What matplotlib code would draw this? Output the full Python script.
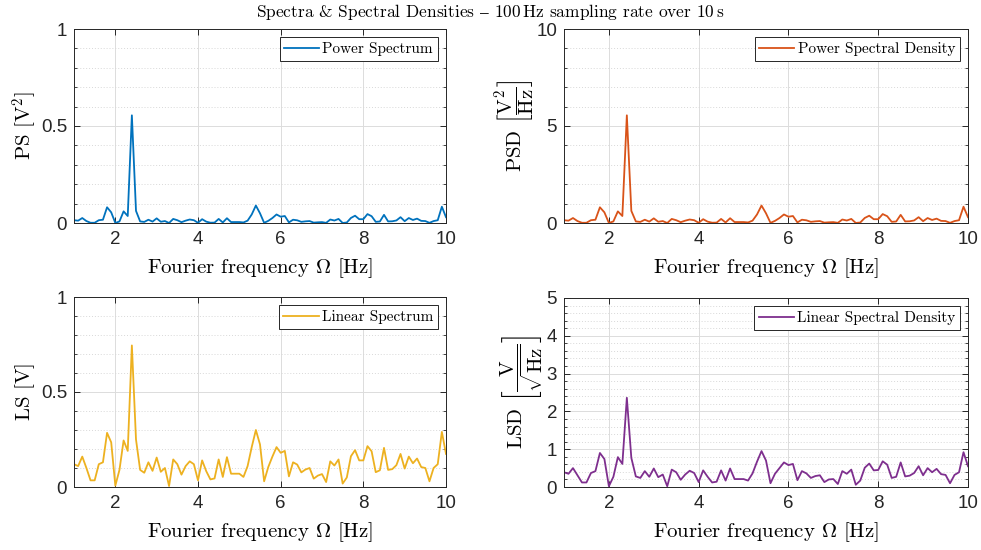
import numpy as np
import matplotlib
matplotlib.use('Agg')
import matplotlib.pyplot as plt
from matplotlib.ticker import MultipleLocator

plt.rcParams['mathtext.fontset'] = 'cm'
plt.rcParams['font.family'] = ['cmr10', 'DejaVu Serif']
plt.rcParams['axes.unicode_minus'] = False

# frequency bins, 0.1 Hz resolution
freq = np.linspace(1, 10, 91)

# power spectrum [V^2]
ps = [0.0144, 0.0121, 0.0256, 0.010, 0.0012, 0.0012, 0.0144, 0.0169, 0.081, 0.055,
      0.0001, 0.0081, 0.060, 0.036, 0.555, 0.0625, 0.0081, 0.0056, 0.0169, 0.0072,
      0.024, 0.0064, 0.010, 0.0000, 0.021, 0.0144, 0.0042, 0.0121, 0.018, 0.0144,
      0.0012, 0.0196, 0.0069, 0.0016, 0.0020, 0.021, 0.0028, 0.0246, 0.0049, 0.0049,
      0.0049, 0.0028, 0.0121, 0.044, 0.090, 0.050, 0.0009, 0.011, 0.0256, 0.044,
      0.0324, 0.036, 0.0031, 0.0169, 0.0139, 0.0059, 0.0085, 0.010, 0.0019, 0.0036,
      0.0046, 0.0007, 0.018, 0.0128, 0.021, 0.0003, 0.0025, 0.026, 0.0376, 0.0196,
      0.0196, 0.046, 0.035, 0.0060, 0.0077, 0.042, 0.0081, 0.0088, 0.0132, 0.030,
      0.0094, 0.0256, 0.0156, 0.0225, 0.011, 0.010, 0.0009, 0.010, 0.0144, 0.084, 0.030]

# power spectral density [V^2/Hz]
psd = [0.144, 0.121, 0.256, 0.10, 0.012, 0.012, 0.144, 0.169, 0.81, 0.55,
       0.001, 0.081, 0.60, 0.36, 5.55, 0.625, 0.081, 0.056, 0.169, 0.072,
       0.24, 0.064, 0.10, 0.000, 0.21, 0.144, 0.042, 0.121, 0.18, 0.144,
       0.012, 0.196, 0.069, 0.016, 0.02, 0.21, 0.028, 0.246, 0.049, 0.049,
       0.049, 0.028, 0.121, 0.44, 0.90, 0.50, 0.009, 0.11, 0.256, 0.44,
       0.324, 0.36, 0.031, 0.169, 0.139, 0.059, 0.085, 0.10, 0.019, 0.036,
       0.046, 0.007, 0.18, 0.128, 0.21, 0.003, 0.025, 0.26, 0.376, 0.196,
       0.196, 0.46, 0.35, 0.06, 0.077, 0.42, 0.081, 0.088, 0.132, 0.30,
       0.094, 0.256, 0.156, 0.225, 0.11, 0.10, 0.009, 0.10, 0.144, 0.84, 0.30]

# linear spectrum [V]
ls = [0.12, 0.11, 0.16, 0.10, 0.035, 0.035, 0.12, 0.13, 0.285, 0.235,
      0.007, 0.09, 0.245, 0.19, 0.745, 0.25, 0.09, 0.075, 0.13, 0.085,
      0.155, 0.08, 0.10, 0.005, 0.145, 0.12, 0.065, 0.11, 0.135, 0.12,
      0.035, 0.14, 0.083, 0.04, 0.045, 0.145, 0.053, 0.157, 0.07, 0.07,
      0.07, 0.053, 0.11, 0.21, 0.30, 0.224, 0.03, 0.105, 0.16, 0.21,
      0.18, 0.19, 0.056, 0.13, 0.118, 0.077, 0.092, 0.10, 0.044, 0.06,
      0.068, 0.026, 0.135, 0.113, 0.145, 0.018, 0.05, 0.162, 0.194, 0.14,
      0.14, 0.215, 0.188, 0.078, 0.088, 0.206, 0.09, 0.094, 0.115, 0.174,
      0.097, 0.16, 0.125, 0.15, 0.105, 0.10, 0.03, 0.10, 0.12, 0.29, 0.174]

# linear spectral density [V/sqrt(Hz)]
lsd = [0.39, 0.35, 0.50, 0.31, 0.12, 0.12, 0.37, 0.42, 0.90, 0.74,
       0.02, 0.27, 0.79, 0.61, 2.36, 0.77, 0.28, 0.24, 0.42, 0.27,
       0.49, 0.26, 0.33, 0.02, 0.46, 0.39, 0.19, 0.33, 0.43, 0.37,
       0.13, 0.44, 0.27, 0.12, 0.14, 0.44, 0.17, 0.49, 0.21, 0.21,
       0.21, 0.17, 0.36, 0.67, 0.95, 0.70, 0.10, 0.35, 0.50, 0.65,
       0.58, 0.61, 0.18, 0.42, 0.36, 0.24, 0.29, 0.31, 0.13, 0.20,
       0.21, 0.08, 0.42, 0.35, 0.46, 0.06, 0.17, 0.51, 0.62, 0.44,
       0.45, 0.68, 0.59, 0.24, 0.27, 0.65, 0.28, 0.30, 0.37, 0.55,
       0.31, 0.50, 0.39, 0.48, 0.34, 0.32, 0.10, 0.32, 0.39, 0.92, 0.55]

fig = plt.figure(figsize=(9.81, 5.5), dpi=100)

W, H = 981, 550
axc = '#262626'
grid_c = '#dcdcdc'


def panel(box, y, color, name, ylab, ymax, major, minor, lab_x):
    l, t, r, b = box
    ax = fig.add_axes([l / W, 1 - b / H, (r - l) / W, (b - t) / H])
    ax.plot(freq, y, color=color, lw=1.3, label=name)
    ax.set_xlim(1, 10)
    ax.set_ylim(0, ymax)
    ax.xaxis.set_major_locator(MultipleLocator(2))
    ax.yaxis.set_major_locator(MultipleLocator(major))
    ax.yaxis.set_minor_locator(MultipleLocator(minor))
    ax.grid(True, which='major', color=grid_c, lw=0.7)
    ax.yaxis.grid(True, which='minor', color='#d8d8d8', lw=0.7, linestyle=(0, (1, 2)))
    ax.set_axisbelow(True)
    for s in ax.spines.values():
        s.set_color(axc)
        s.set_linewidth(0.7)
    ax.tick_params(which='both', direction='in', top=True, right=True, color=axc,
                   labelcolor=axc, labelsize=13.5, labelfontfamily='Liberation Sans')
    ax.tick_params(which='major', length=4, width=0.7)
    ax.tick_params(which='minor', length=2.5, width=0.6)
    ax.tick_params(axis='x', pad=6)
    ax.tick_params(axis='y', pad=5)
    ax.yaxis.set_major_formatter(matplotlib.ticker.FuncFormatter(lambda v, p: '%g' % v))
    ax.set_xlabel(r'Fourier frequency $\Omega$ [Hz]', fontsize=15, va='center')
    ax.xaxis.set_label_coords(0.5, -45 / (b - t))
    ax.set_ylabel(ylab, fontsize=15, va='center')
    ax.yaxis.set_label_coords(lab_x, 0.5)
    leg = ax.legend(loc='upper right', fontsize=11, fancybox=False, framealpha=1,
                    edgecolor=axc, borderpad=0.3, handlelength=2.3, handletextpad=0.2,
                    borderaxespad=0.55)
    leg.get_frame().set_linewidth(0.7)
    return ax


panel((74, 29, 446, 223), ps, '#0072BD', 'Power Spectrum',
      r'PS $[\mathrm{V}^2]$', 1, 0.5, 0.1, -0.132)
panel((564, 29, 968, 223), psd, '#D95319', 'Power Spectral Density',
      r'PSD $\left[\dfrac{\mathrm{V}^2}{\mathrm{Hz}}\right]$', 10, 5, 1, -0.121)
panel((74, 297, 446, 487), ls, '#EDB120', 'Linear Spectrum',
      r'LS $[\mathrm{V}]$', 1, 0.5, 0.1, -0.132)
panel((564, 298, 968, 487), lsd, '#7E2F8E', 'Linear Spectral Density',
      r'LSD $\left[\dfrac{\mathrm{V}}{\sqrt{\mathrm{Hz}}}\right]$', 5, 1, 0.2, -0.106)

fig.text(0.5, 1 - 12 / H,
         'Spectra & Spectral Densities $\\mathrm{–}$ 100$\\,$Hz sampling rate over 10$\\,$s',
         ha='center', va='center', fontsize=12.5)

fig.savefig('out.png', dpi=100)
